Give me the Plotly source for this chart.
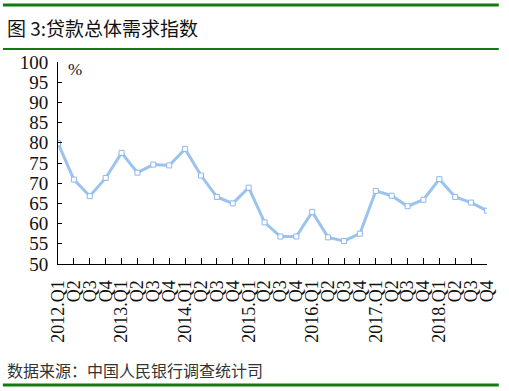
import plotly.graph_objects as go

quarters = ["2012.Q1","Q2","Q3","Q4","2013.Q1","Q2","Q3","Q4","2014.Q1","Q2","Q3","Q4",
            "2015.Q1","Q2","Q3","Q4","2016.Q1","Q2","Q3","Q4","2017.Q1","Q2","Q3","Q4",
            "2018.Q1","Q2","Q3","Q4"]
values = [79.9, 70.9, 66.8, 71.3, 77.5, 72.6, 74.6, 74.4, 78.5, 71.9, 66.6, 65.0,
          68.9, 60.3, 56.8, 56.8, 62.9, 56.6, 55.7, 57.5, 68.1, 66.9, 64.3, 65.9,
          71.0, 66.6, 65.2, 63.2]
y_ticks = [50, 55, 60, 65, 70, 75, 80, 85, 90, 95, 100]

idx = list(range(len(quarters)))

L, R, T, B = 58, 494, 62, 264
W, H = 509, 391
pw, ph = R - L, B - T

def px(x):
    return (x - L) / pw

def py(y):
    return (B - y) / ph

fig = go.Figure()
fig.add_trace(go.Scatter(
    x=idx, y=values, mode="lines+markers",
    line=dict(color="#9cc3ef", width=3),
    marker=dict(symbol="square", size=5, color="white",
                line=dict(color="#8db8ec", width=1)),
    hoverinfo="skip", showlegend=False,
))

green = "#137a13"
shapes = [
    dict(type="line", xref="paper", yref="paper", x0=px(2), x1=px(506), y0=py(5), y1=py(5),
         line=dict(color=green, width=3)),
    dict(type="line", xref="paper", yref="paper", x0=px(2), x1=px(506), y0=py(49), y1=py(49),
         line=dict(color=green, width=2)),
    dict(type="line", xref="paper", yref="paper", x0=px(2), x1=px(506), y0=py(385), y1=py(385),
         line=dict(color=green, width=3)),
]

annotations = [
    dict(text="图 3:贷款总体需求指数", xref="paper", yref="paper", x=px(4), y=py(27),
         xanchor="left", yanchor="middle", showarrow=False,
         font=dict(family="Noto Sans CJK SC", size=19, color="#111")),
    dict(text="数据来源：中国人民银行调查统计司", xref="paper", yref="paper", x=px(4), y=py(370),
         xanchor="left", yanchor="middle", showarrow=False,
         font=dict(family="Noto Sans CJK SC", size=16, color="#333")),
    dict(text="%", xref="paper", yref="paper", x=px(66), y=py(69),
         xanchor="left", yanchor="middle", showarrow=False,
         font=dict(family="Liberation Serif", size=17, color="#111")),
]

fig.update_layout(
    width=W, height=H,
    margin=dict(l=L, r=W - R, t=T, b=H - B, pad=0),
    paper_bgcolor="white", plot_bgcolor="white",
    shapes=shapes, annotations=annotations,
    xaxis=dict(
        range=[0, len(quarters) - 1], tickmode="array", tickvals=idx, ticktext=quarters,
        tickangle=-90, ticks="inside", ticklen=6, tickcolor="#000", tickwidth=1,
        showline=True, linecolor="#000", linewidth=1, showgrid=False, zeroline=False,
        ticklabelstandoff=8,
        tickfont=dict(family="Liberation Serif", size=18, color="#111"),
    ),
    yaxis=dict(
        range=[50, 100], tickmode="array", tickvals=y_ticks,
        ticks="inside", ticklen=4, tickcolor="#000", tickwidth=1,
        showline=True, linecolor="#000", linewidth=1, showgrid=False, zeroline=False,
        ticklabelstandoff=5,
        tickfont=dict(family="Liberation Serif", size=19, color="#111"),
    ),
)

fig.write_html("out.html", config={"displayModeBar": False},
               post_script="document.body.style.margin='0';")
